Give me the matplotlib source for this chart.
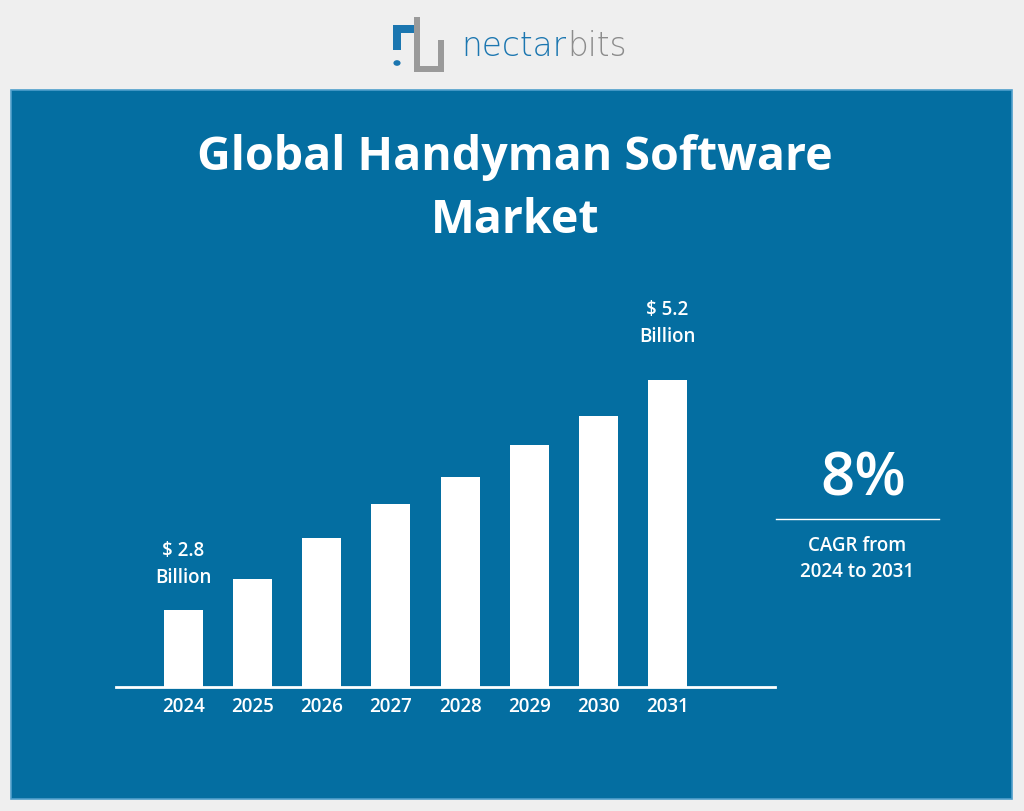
import matplotlib
matplotlib.use("Agg")
import matplotlib.pyplot as plt
from matplotlib.patches import Rectangle, Circle
import numpy as np

years = ["2024", "2025", "2026", "2027", "2028", "2029", "2030", "2031"]
values = [2.8, 3.13, 3.56, 3.91, 4.19, 4.53, 4.83, 5.2]
first_label = "$ 2.8\nBillion"
last_label = "$ 5.2\nBillion"
title = "Global Handyman Software\nMarket"
cagr = "8%"
cagr_text = "CAGR from\n2024 to 2031"

W, H = 1024, 811
BG = "#efefef"
BLUE = "#046ea1"
WHITE = "#ffffff"
LOGO_BLUE = "#1b76b0"
LOGO_GRAY = "#9a9a9a"

fig = plt.figure(figsize=(W / 100, H / 100), dpi=100, facecolor=BG)

def fx(x):
    return x / W

def fy(y):
    return 1 - y / H

def rect(x, y, w, h, color, z=2, **kw):
    fig.patches.append(Rectangle((fx(x), fy(y + h)), w / W, h / H,
                                 transform=fig.transFigure, facecolor=color, zorder=z, **kw))

# blue panel
fig.patches.append(Rectangle((fx(11), fy(799)), (1012 - 11) / W, (799 - 90) / H,
                             transform=fig.transFigure, facecolor=BLUE,
                             edgecolor="#4f9fcc", linewidth=1.2, zorder=-5))

# logo icon (approximate)
rect(393, 25, 8, 25, LOGO_BLUE)
rect(393, 25, 24, 8, LOGO_BLUE)
fig.patches.append(Circle((fx(397), fy(63)), 0.0035, transform=fig.transFigure,
                          facecolor=LOGO_BLUE, zorder=2))
rect(414, 17, 6, 55, LOGO_GRAY)
rect(414, 66, 30, 6, LOGO_GRAY)
rect(438, 40, 6, 32, LOGO_GRAY)

t1 = fig.text(fx(461), fy(47), "nectar", color=LOGO_BLUE, fontsize=23.5, family="DejaVu Sans",
              ha="left", va="center", fontweight="light")
fig.canvas.draw()
bb = t1.get_window_extent(renderer=fig.canvas.get_renderer())
fig.text(bb.x1 / W + 0.001, fy(47), "bits", color="#8c8c8c", fontsize=23.5,
         family="DejaVu Sans", ha="left", va="center", fontweight="light")

# title
fig.text(fx(515), fy(189), title, color=WHITE, fontsize=33.5, family="Open Sans",
         fontweight="bold", ha="center", va="center", linespacing=1.42)

# chart axes
x0_px, x1_px = 116, 775
base_px, top_px = 687, 303.8
ax = fig.add_axes([fx(x0_px), fy(base_px), (x1_px - x0_px) / W, (base_px - top_px) / H])
ax.set_facecolor("none")
pos = np.arange(len(years))
ax.bar(pos, np.array(values) - 2.0, bottom=2.0, width=0.565, color=WHITE, zorder=2)
ax.set_xlim(-0.976, 8.555)
ax.set_ylim(2.0, 6.0)
for s in ["top", "right", "left"]:
    ax.spines[s].set_visible(False)
ax.spines["bottom"].set_color(WHITE)
ax.spines["bottom"].set_linewidth(2)
ax.spines["bottom"].set_zorder(3)
ax.set_yticks([])
ax.set_xticks(pos)
ax.set_xticklabels(years, color=WHITE, fontsize=13.5, family="Open Sans", fontweight="semibold")
ax.tick_params(axis="x", length=0, pad=7)

ax.annotate(first_label, (pos[0], values[0]), xytext=(0, 16), textcoords="offset points",
            ha="center", va="bottom", color=WHITE, fontsize=13.5, family="Open Sans",
            fontweight="semibold", linespacing=1.5)
ax.annotate(last_label, (pos[-1], values[-1]), xytext=(0, 24), textcoords="offset points",
            ha="center", va="bottom", color=WHITE, fontsize=13.5, family="Open Sans",
            fontweight="semibold", linespacing=1.45)

# CAGR block
fig.text(fx(863), fy(480), cagr, color=WHITE, fontsize=43, family="Open Sans",
         fontweight="semibold", ha="center", va="center")
fig.add_artist(plt.Line2D([fx(776), fx(939)], [fy(519), fy(519)], color=WHITE,
                          linewidth=1, transform=fig.transFigure))
fig.text(fx(857), fy(559), cagr_text, color=WHITE, fontsize=13.5, family="Open Sans",
         fontweight="semibold", ha="center", va="center", linespacing=1.42)

fig.savefig("out.png", dpi=100, facecolor=BG)
